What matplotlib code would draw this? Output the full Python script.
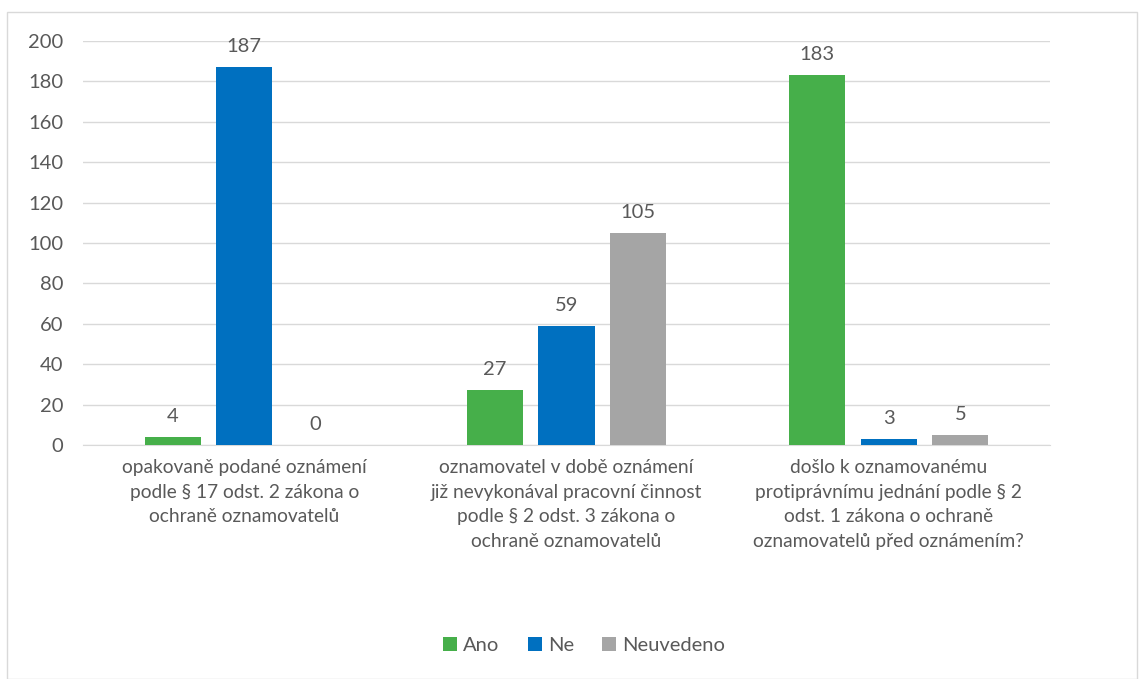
import numpy as np
import matplotlib
matplotlib.use("Agg")
import matplotlib.pyplot as plt
from matplotlib.patches import Rectangle

categories = [
    "opakovaně podané oznámení\npodle § 17 odst. 2 zákona o\nochraně oznamovatelů",
    "oznamovatel v době oznámení\njiž nevykonával pracovní činnost\npodle § 2 odst. 3 zákona o\nochraně oznamovatelů",
    "došlo k oznamovanému\nprotiprávnímu jednání podle § 2\nodst. 1 zákona o ochraně\noznamovatelů před oznámením?",
]
series_names = ["Ano", "Ne", "Neuvedeno"]
ano = [4, 27, 183]
ne = [187, 59, 3]
neuvedeno = [0, 105, 5]
colors = ["#46AF4A", "#0070C0", "#A5A5A5"]

plt.rcParams["font.family"] = ["Lato", "DejaVu Sans"]
txt = "#595959"

fig = plt.figure(figsize=(11.45, 6.79), dpi=100)
ax = fig.add_axes([0.0725, 0.3446, 0.8445, 0.595])

x = np.arange(len(categories))
w = 0.174
step = 0.222
for i, (vals, name) in enumerate(zip([ano, ne, neuvedeno], series_names)):
    pos = x + (i - 1) * step
    ax.bar(pos, vals, w, color=colors[i], label=name, zorder=3)
    for p, v in zip(pos, vals):
        ax.text(p, v + 6, str(v), ha="center", va="bottom", fontsize=14.5, color=txt)

ax.set_xlim(-0.5, 2.5)
ax.set_ylim(0, 200)
ax.set_yticks(range(0, 201, 20))
ax.yaxis.grid(True, color="#D9D9D9", linewidth=1)
ax.set_axisbelow(True)
for s in ["top", "right", "left"]:
    ax.spines[s].set_visible(False)
ax.spines["bottom"].set_color("#D9D9D9")
ax.tick_params(axis="both", length=0, colors=txt, labelsize=14.5)
ax.tick_params(axis="y", pad=14)
ax.set_xticks(x)
ax.set_xticklabels(categories, fontsize=13.8, color=txt, linespacing=1.55)
ax.tick_params(axis="x", pad=10)

fig.legend(loc="center", bbox_to_anchor=(0.51, 0.05), ncol=3, frameon=False,
           fontsize=14.5, labelcolor=txt, handlelength=0.7, handleheight=0.7,
           handletextpad=0.3, columnspacing=1.4)

fig.patches.append(Rectangle((7 / 1145, 0), 1130 / 1145, 1 - 12 / 679,
                             transform=fig.transFigure, fill=False,
                             edgecolor="#D9D9D9", linewidth=1))

fig.savefig("out.png", dpi=100)
